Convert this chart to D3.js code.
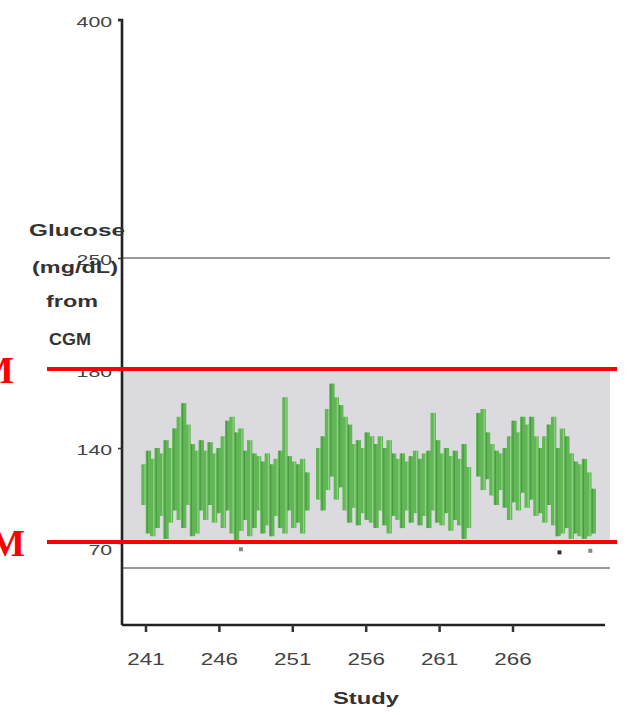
<!DOCTYPE html>
<html>
<head>
<meta charset="utf-8">
<script src="https://cdn.jsdelivr.net/npm/d3@7"></script>
<style>
  html, body { margin: 0; padding: 0; background: #fff; }
  svg { display: block; }
</style>
</head>
<body>
<svg id="chart" width="628" height="715" font-family="'Liberation Sans', Arial, sans-serif"></svg>
<script>
// ---------------- data ----------------
const studyPos = [
  240.9,241.2,241.5,241.8,242.1,242.4,242.7,243.0,243.3,243.6,243.9,244.2,244.5,244.8,245.1,245.4,245.7,246.0,246.3,246.6,
  246.9,247.2,247.5,247.8,248.1,248.4,248.7,249.0,249.3,249.6,249.9,250.2,250.5,250.8,251.1,251.4,251.7,252.0,
  252.8,253.1,253.4,253.7,254.0,254.3,254.6,254.9,255.2,255.5,255.8,256.1,256.4,256.7,257.0,257.3,257.6,257.9,
  258.2,258.5,258.8,259.1,259.4,259.7,260.0,260.3,260.6,260.9,261.2,261.5,261.8,262.1,262.4,262.7,263.0,
  263.7,264.0,264.3,264.6,264.9,265.2,265.5,265.8,266.1,266.4,266.7,267.0,267.3,267.6,267.9,268.2,268.5,268.8,
  269.1,269.4,269.7,270.0,270.3,270.6,270.9,271.2,271.5
];
const glucoseLow = [
  98,77,75,81,90,73,85,94,87,81,98,75,77,94,87,98,85,92,81,94,
  77,72,79,87,75,81,94,77,83,75,90,81,77,94,81,85,77,94,
  102,94,109,119,102,111,94,85,96,83,92,87,85,81,94,83,77,90,
  87,81,94,85,92,83,90,81,94,85,83,92,79,87,83,73,81,
  119,109,117,105,98,109,96,87,100,94,107,96,102,90,92,85,98,83,
  75,77,81,73,77,75,73,75,77
];
const glucoseHigh = [
  128,138,132,140,136,144,140,150,156,163,152,142,138,144,138,143,136,140,146,154,
  156,148,150,138,144,136,134,130,136,128,132,138,166,134,130,128,132,122,
  140,146,160,173,166,162,156,152,142,144,140,148,146,142,146,140,144,136,
  132,136,130,134,138,132,136,138,158,144,136,140,134,138,132,142,126,
  158,160,148,142,138,136,140,146,154,148,156,152,156,146,140,146,152,156,
  140,150,146,136,130,128,132,122,110
];
const outlierStudy = [247.5, 269.2, 271.3];
const outlierValue = [66, 64, 65];

const yTickValues = [70, 140, 180, 250, 400];
const xTickValues = [241, 246, 251, 256, 261, 266];
const targetRange = [70, 180];
const referenceLines = [250, 54];
const markerLines = [180, 70];
const yLabelLines = ["Glucose", "(mg/dL)", "from", "CGM"];
const xTitle = "Study";
const markerText = "M";

// ---------------- scales ----------------
const svg = d3.select("#chart");
const x = d3.scaleLinear().domain([239.4, 272.3]).range([122, 605]);
const y = d3.scaleLinear()
  .domain([12, 54, 70, 140, 180, 250, 400])
  .range([625, 568, 543, 448, 370, 258, 20]);

const plotRight = 610;

// target band
svg.append("rect")
  .attr("x", x.range()[0] + 1)
  .attr("y", y(targetRange[1]))
  .attr("width", plotRight - x.range()[0] - 1)
  .attr("height", y(targetRange[0]) - y(targetRange[1]))
  .attr("fill", "#dbdbdf");

// reference gray lines
svg.selectAll("line.ref").data(referenceLines).join("line")
  .attr("class", "ref")
  .attr("x1", x.range()[0]).attr("x2", plotRight)
  .attr("y1", d => y(d)).attr("y2", d => y(d))
  .attr("stroke", "#9a9a9a").attr("stroke-width", 2.2);

// green CGM trace
const pts = studyPos.map((s, i) => ({ s, lo: glucoseLow[i], hi: glucoseHigh[i], i }));
const g = svg.append("g");
g.selectAll("line.base").data(pts).join("line")
  .attr("class", "base")
  .attr("x1", d => x(d.s)).attr("x2", d => x(d.s))
  .attr("y1", d => y(d.lo)).attr("y2", d => y(d.hi))
  .attr("stroke", "#62b656").attr("stroke-width", 5.4);
g.selectAll("line.streak").data(pts).join("line")
  .attr("class", "streak")
  .attr("x1", d => x(d.s) + (d.i % 2 ? -1 : 1)).attr("x2", d => x(d.s) + (d.i % 2 ? -1 : 1))
  .attr("y1", d => y(d.lo)).attr("y2", d => y(d.hi))
  .attr("stroke", d => d.i % 2 ? "#489a43" : "#8ed283")
  .attr("stroke-width", 1.2);

// outliers
svg.selectAll("rect.out").data(outlierStudy).join("rect")
  .attr("class", "out")
  .attr("x", d => x(d) - 2).attr("y", (d, i) => y(outlierValue[i]) - 2)
  .attr("width", 4).attr("height", 4)
  .attr("fill", (d, i) => i === 1 ? "#333" : "#888");

// axes
const yAxis = d3.axisLeft(y).tickValues(yTickValues).tickSize(4).tickPadding(3).tickFormat(d3.format("d"));
const yg = svg.append("g").attr("transform", `translate(${x.range()[0]},0)`).call(yAxis);
yg.attr("font-family", null);
yg.select(".domain").attr("stroke", "#222").attr("stroke-width", 2.6).attr("d", `M-4,${y(400)}H0V${y(12)}`);
yg.selectAll(".tick line").attr("stroke", "#333").attr("stroke-width", 1.5);
yg.selectAll(".tick text")
  .attr("font-size", 15).attr("fill", "#444")
  .attr("transform", "scale(1.42,1)")
  .attr("dy", (d) => d === 70 ? "0.75em" : "0.4em");

const xAxis = d3.axisBottom(x).tickValues(xTickValues).tickSize(7).tickPadding(22).tickFormat(d3.format("d"));
const xg = svg.append("g").attr("transform", `translate(0,${y(12)})`).call(xAxis);
xg.attr("font-family", null);
xg.select(".domain").attr("stroke", "#222").attr("stroke-width", 2.6).attr("d", `M${x.range()[0]},0H${x.range()[1]}`);
xg.selectAll(".tick line").attr("stroke", "#333").attr("stroke-width", 2.5);
xg.selectAll(".tick text")
  .attr("font-size", 16).attr("fill", "#444")
  .attr("transform", "scale(1.4,1)");

// y label
const yLabelPos = [[77, 236, 96], [75, 273, 86], [72, 307, 52], [70, 345, 42]];
svg.selectAll("text.ylab").data(yLabelLines).join("text")
  .attr("class", "ylab")
  .attr("x", (d, i) => yLabelPos[i][0]).attr("y", (d, i) => yLabelPos[i][1])
  .attr("text-anchor", "middle")
  .attr("font-size", 16).attr("font-weight", "bold").attr("fill", "#333")
  .attr("textLength", (d, i) => yLabelPos[i][2]).attr("lengthAdjust", "spacingAndGlyphs")
  .text(d => d);

// x title
svg.append("text")
  .attr("x", 366).attr("y", 704)
  .attr("text-anchor", "middle")
  .attr("font-size", 17).attr("font-weight", "bold").attr("fill", "#333")
  .attr("textLength", 66).attr("lengthAdjust", "spacingAndGlyphs")
  .text(xTitle);

// red marker lines
svg.selectAll("line.marker").data(markerLines).join("line")
  .attr("class", "marker")
  .attr("x1", 47).attr("x2", 617)
  .attr("y1", d => y(d) - 1).attr("y2", d => y(d) - 1)
  .attr("stroke", "#ff0000").attr("stroke-width", 4);

const markerTextPos = [[14, 383], [25, 556]];
svg.selectAll("text.marker").data(markerLines).join("text")
  .attr("class", "marker")
  .attr("x", (d, i) => markerTextPos[i][0]).attr("y", (d, i) => markerTextPos[i][1])
  .attr("text-anchor", "end")
  .attr("font-family", "'Liberation Serif', 'Times New Roman', serif")
  .attr("font-size", 38).attr("font-weight", "bold").attr("fill", "#ff0000")
  .text(markerText);
</script>
</body>
</html>
